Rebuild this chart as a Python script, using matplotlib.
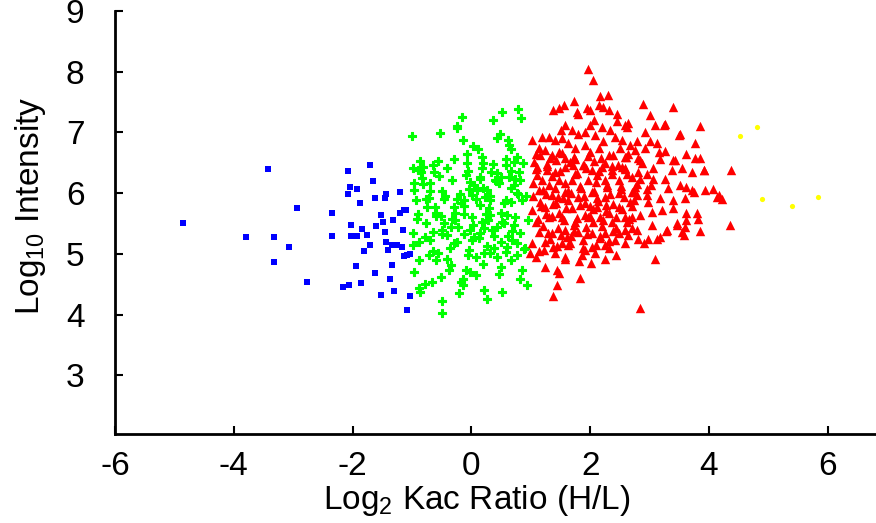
import matplotlib.pyplot as plt

plt.rcParams['font.family'] = ['Liberation Sans', 'DejaVu Sans']
plt.rcParams['axes.unicode_minus'] = False

# values (Log2 ratio, Log10 intensity)
blue_x = [-4.85, -3.79, -3.33, -3.33, -3.42, -3.07, -2.94, -2.76, -2.35, -2.35,
          -2.17, -2.06, -2.07, -2.05, -1.93, -2.08, -1.88, -1.70, -1.66, -1.63,
          -1.45, -1.43, -1.20, -2.03, -2.02, -1.93, -1.84, -1.76, -1.81, -1.71,
          -1.94, -1.86, -1.62, -1.53, -1.49, -1.60, -1.45, -1.43, -1.41, -1.34,
          -1.25, -1.32, -1.16, -1.21, -1.11, -1.17, -1.13, -1.04, -1.33, -1.37,
          -1.52, -1.30, -1.03, -1.09, -1.14, -1.08]
blue_y = [5.50, 5.28, 5.28, 4.86, 6.39, 5.12, 5.75, 4.54, 5.67, 5.30,
          4.45, 4.49, 6.37, 6.10, 6.07, 5.98, 5.83, 6.46, 6.20, 5.92,
          5.92, 5.98, 6.02, 5.47, 5.30, 5.29, 5.41, 5.31, 5.04, 5.15,
          4.80, 4.52, 4.68, 5.64, 5.53, 5.45, 5.36, 5.20, 5.06, 5.14,
          5.14, 5.56, 5.39, 5.68, 5.72, 5.12, 4.96, 4.99, 4.81, 4.59,
          4.32, 4.38, 4.30, 4.08, 5.72, 4.98]

green_x = [-1.00, -0.53, -0.16, -0.24, -0.24, -0.15, 0.37, 0.51, 0.78, 0.84,
           0.48, 0.43, 0.61, 0.64, 0.66, 0.03, 0.11, -0.07, -0.29, -0.57,
           -0.87, 0.18, 0.19, -0.07, 0.58, 0.59, 0.76, 0.72, 0.87, -0.99,
           -0.90, -0.81, -0.85, -0.65, -0.63, -0.41, -0.05, 0.36, 0.33, 0.43,
           0.49, 0.40, 0.46, 0.18, 0.15, 0.66, 0.80, 0.82, 0.74, -0.96,
           -0.97, -0.94, -0.81, -0.69, -0.70, -0.77, -0.49, -0.46, -0.20, -0.24,
           -0.13, -0.02, 0.05, -0.04, 0.10, 0.01, 0.19, 0.27, 0.23, 0.32,
           0.66, 0.71, 0.77, 0.59, 0.67, 0.85, -0.61, -0.75, -0.30, -0.13,
           0.15, 0.29, -0.90, -0.59, -0.27, -0.13, 0.01, 0.32, 0.49, 0.60,
           -0.77, -0.46, -0.49, -0.35, -0.41, 0.18, 0.21, 0.15, 0.35, 0.43,
           -0.02, 0.01, -0.04, 0.71, 0.82, 0.68, 0.77, -0.98, -0.64, -0.24,
           -0.30, 0.49, 0.60, -0.69, -0.88, -0.99, -0.72, -0.88, -0.57, -0.59,
           -0.41, -0.35, -0.38, 0.07, 0.21, 0.32, 0.43, 0.66, 0.77, -0.10,
           -0.02, 0.07, 0.49, 0.85, 0.82, 0.94, -0.97, -0.66, -0.79, -0.88,
           -0.86, -0.18, -0.15, -0.21, 0.21, 0.26, 0.51, -0.49, -0.49, 0.92,
           0.95, 0.90, 0.55, -0.33, 0.28, -0.52, 0.05, 0.62, -0.12, 0.38,
           -0.83, -0.55, -0.32, -0.09, 0.14, 0.41, 0.63,
           -0.72, -0.44, -0.18, 0.08, 0.31, 0.55, 0.79,
           -0.91, -0.60, -0.27, 0.02, 0.24, 0.52, 0.73,
           -0.78, -0.50, -0.22, 0.12, 0.38, 0.69,
           -0.65, -0.36, -0.06, 0.27, 0.58, 0.88,
           -0.52, -0.15, 0.19, 0.47]
green_y = [6.94, 6.99, 7.25, 7.10, 7.07, 6.87, 7.21, 7.33, 7.38, 7.23,
           6.98, 6.91, 6.87, 6.79, 6.72, 6.78, 6.73, 6.64, 6.56, 6.53,
           6.53, 6.60, 6.49, 6.49, 6.56, 6.46, 6.60, 6.52, 6.50, 6.41,
           6.38, 6.43, 6.35, 6.46, 6.35, 6.41, 6.36, 6.48, 6.35, 6.33,
           6.27, 6.21, 6.17, 6.41, 6.27, 6.36, 6.35, 6.21, 6.24, 6.17,
           6.05, 5.88, 6.15, 6.17, 6.04, 5.91, 6.04, 5.90, 5.99, 5.91,
           5.88, 6.19, 6.13, 6.06, 6.05, 5.97, 6.09, 6.05, 5.94, 5.88,
           6.08, 6.13, 6.00, 5.88, 5.86, 5.88, 5.77, 5.77, 5.77, 5.79,
           5.80, 5.76, 5.65, 5.67, 5.68, 5.65, 5.61, 5.64, 5.67, 5.64,
           5.50, 5.50, 5.39, 5.44, 5.31, 5.53, 5.42, 5.34, 5.39, 5.44,
           5.39, 5.23, 5.06, 5.47, 5.34, 5.23, 5.17, 5.34, 5.36, 5.20,
           5.17, 5.20, 5.12, 5.23, 5.20, 5.14, 4.98, 4.90, 5.01, 4.90,
           4.92, 4.81, 4.73, 4.95, 5.01, 5.01, 4.95, 4.90, 4.98, 4.73,
           4.70, 4.65, 4.79, 4.73, 4.59, 4.48, 4.70, 4.54, 4.51, 4.43,
           4.37, 4.54, 4.48, 4.35, 4.40, 4.26, 4.37, 4.22, 4.02, 5.95,
           5.55, 5.10, 5.50, 5.58, 5.56, 5.62, 5.28, 5.30, 5.33, 5.10,
           6.25, 6.28, 6.22, 6.30, 6.24, 6.20, 6.27,
           5.92, 5.96, 5.84, 5.90, 5.95, 5.83, 5.99,
           5.58, 5.62, 5.55, 5.48, 5.66, 5.52, 5.60,
           5.28, 5.33, 5.44, 5.26, 5.30, 5.38,
           5.05, 5.10, 4.98, 5.13, 5.03, 5.08,
           4.62, 4.58, 4.84, 4.66]

red_x = [1.97, 2.04, 1.72, 2.17, 2.30, 1.38, 1.47, 1.55, 1.78, 1.80,
         1.94, 2.00, 2.14, 2.22, 2.31, 2.45, 2.06, 2.00, 2.20, 2.34,
         2.45, 2.59, 1.57, 1.50, 1.69, 1.80, 1.92, 2.08, 2.22, 2.42,
         2.53, 1.19, 1.30, 1.02, 1.41, 1.52, 1.63, 1.75, 1.92, 2.00,
         2.14, 2.31, 2.50, 2.59, 1.13, 1.08, 1.24, 1.36, 1.47, 1.58,
         1.72, 1.10, 1.27, 1.41, 1.58, 1.75, 1.89, 2.03, 2.20, 2.36,
         2.53, 2.62, 1.19, 1.47, 1.69, 1.97, 2.25, 2.48, 2.88, 3.40,
         3.01, 2.64, 2.62, 3.09, 3.26, 3.85, 2.92, 3.51, 2.78, 2.67,
         3.01, 3.12, 3.76, 2.92, 2.76, 2.64, 2.81, 2.87, 3.15, 3.25,
         3.18, 3.62, 3.42, 3.76, 3.85, 3.54, 3.37, 3.71, 3.92, 4.37,
         2.95, 2.70, 2.84, 3.06, 3.26, 2.59, 1.57, 1.24, 1.44, 1.47,
         1.82, 1.44, 1.37, 2.43, 1.13, 1.22, 0.99, 1.08, 1.41, 1.38,
         1.86, 1.92, 2.08, 2.25, 2.31, 2.03, 1.63, 1.52, 1.24, 1.02,
         2.48, 2.59, 2.25, 2.03, 1.80, 1.58, 1.36, 1.13, 2.59, 2.36,
         2.17, 1.97, 1.75, 1.52, 1.30, 1.08, 2.53, 2.31, 2.11, 1.92,
         1.69, 1.47, 1.24, 1.02, 2.48, 2.25, 2.03, 1.80, 1.58, 1.36,
         1.13, 2.84, 3.09, 4.35, 3.85, 3.54, 3.57, 3.46, 3.59, 3.27,
         3.04, 2.90, 2.98, 3.12, 3.18, 2.64, 2.81, 2.78, 2.70, 3.62,
         3.79, 3.82, 3.62, 3.40, 3.20, 3.04, 2.84, 2.70, 2.62, 3.93,
         4.06, 4.13, 4.21, 3.74, 3.59, 3.40, 3.18, 2.95, 2.76, 2.98,
         2.73, 4.17, 3.71, 3.62, 3.51, 3.40, 3.91, 3.49, 3.24, 3.29,
         3.46, 1.06, 1.28, 1.43, 1.66, 1.87, 2.07, 2.24, 2.47, 1.04,
         1.31, 1.57, 1.83, 2.09, 2.28, 2.52, 2.79, 3.03, 3.31, 1.16,
         1.42, 1.63, 1.91, 2.13, 2.38, 2.67, 1.21, 1.46, 1.72, 1.93,
         2.19, 2.44, 1.32, 1.61, 1.88, 2.16, 2.41, 1.11, 1.35, 1.78,
         2.12, 2.36, 2.70, 1.54, 1.99, 2.27, 1.68, 2.05, 2.58, 1.25,
         1.15, 1.33, 1.52, 1.74, 1.96, 2.18, 2.39, 2.61, 2.83,
         1.09, 1.27, 1.49, 1.71, 1.93, 2.15, 2.37, 2.59, 2.81, 3.05,
         1.21, 1.40, 1.62, 1.85, 2.07, 2.29, 2.51, 2.73, 2.95,
         1.03, 1.25, 1.46, 1.68, 1.90, 2.12, 2.34, 2.56, 2.78,
         1.17, 1.38, 1.60, 1.82, 2.04, 2.26, 2.48, 2.70,
         1.12, 1.35, 1.56, 1.77, 1.99, 2.21, 2.43, 2.65,
         1.29, 1.51, 1.73, 1.95, 2.16, 2.38,
         1.44, 1.66, 1.88, 2.10, 2.32,
         1.58, 1.81, 2.02, 2.24]
red_y = [8.04, 7.86, 7.52, 7.60, 7.62, 7.37, 7.41, 7.45, 7.34, 7.30,
         7.40, 7.37, 7.45, 7.42, 7.37, 7.30, 7.20, 7.12, 7.09, 7.04,
         7.18, 7.12, 7.12, 7.04, 7.04, 6.98, 7.01, 6.96, 6.85, 6.93,
         6.87, 6.93, 6.93, 6.87, 6.87, 6.90, 6.82, 6.74, 6.79, 6.68,
         6.74, 6.63, 6.74, 6.60, 6.74, 6.65, 6.71, 6.63, 6.68, 6.57,
         6.60, 6.43, 6.38, 6.34, 6.43, 6.32, 6.47, 6.38, 6.43, 6.38,
         6.43, 6.32, 6.22, 6.22, 6.22, 6.22, 6.22, 6.22, 7.46, 7.42,
         7.29, 7.15, 7.09, 7.12, 7.14, 7.10, 7.01, 6.97, 6.85, 6.79,
         6.85, 6.82, 6.82, 6.74, 6.71, 6.65, 6.57, 6.49, 6.68, 6.70,
         6.56, 6.64, 6.54, 6.57, 6.57, 6.41, 6.38, 6.35, 6.38, 6.38,
         6.32, 6.27, 6.24, 6.24, 6.24, 6.41, 4.91, 4.79, 4.73, 4.68,
         4.60, 4.48, 4.30, 4.98, 5.04, 5.06, 5.01, 4.95, 5.01, 5.12,
         4.98, 5.06, 5.01, 5.14, 5.09, 5.12, 5.14, 5.17, 5.20, 5.17,
         5.34, 5.39, 5.34, 5.34, 5.36, 5.39, 5.34, 5.36, 5.60, 5.53,
         5.60, 5.61, 5.53, 5.60, 5.60, 5.53, 5.74, 5.67, 5.77, 5.64,
         5.75, 5.67, 5.77, 5.72, 6.00, 5.94, 6.02, 5.94, 6.02, 5.97,
         6.05, 4.11, 4.91, 5.47, 5.37, 5.36, 5.31, 5.48, 5.44, 5.37,
         5.48, 5.17, 5.25, 5.25, 5.28, 5.31, 5.25, 5.39, 5.42, 5.67,
         5.67, 5.58, 5.56, 5.75, 5.72, 5.69, 5.64, 5.61, 5.53, 6.05,
         6.07, 5.94, 5.91, 6.02, 5.92, 5.88, 5.92, 5.97, 6.10, 5.86,
         5.88, 5.97, 6.05, 6.10, 6.13, 6.54, 6.38, 6.96, 7.12, 5.39,
         5.50, 6.52, 6.48, 6.55, 6.51, 6.46, 6.53, 6.49, 6.47, 6.17,
         6.13, 6.16, 6.12, 6.18, 6.14, 6.11, 6.15, 6.13, 6.09, 5.86,
         5.83, 5.88, 5.84, 5.87, 5.82, 5.85, 5.45, 5.42, 5.47, 5.44,
         5.46, 5.43, 5.24, 5.27, 5.22, 5.26, 5.23, 6.30, 6.28, 6.33,
         6.29, 6.31, 6.02, 5.92, 5.79, 5.71, 5.30, 5.52, 5.18, 5.65,
         6.62, 6.58, 6.66, 6.56, 6.61, 6.57, 6.63, 6.59, 6.55,
         6.40, 6.44, 6.36, 6.46, 6.41, 6.37, 6.45, 6.39, 6.35, 6.42,
         6.05, 6.09, 6.03, 6.08, 6.04, 6.10, 6.06, 6.02, 6.07,
         5.95, 5.99, 5.93, 6.00, 5.96, 5.92, 5.98, 5.94, 5.97,
         5.78, 5.82, 5.76, 5.80, 5.74, 5.81, 5.77, 5.79,
         5.57, 5.62, 5.55, 5.59, 5.63, 5.56, 5.61, 5.58,
         5.35, 5.31, 5.38, 5.33, 5.29, 5.37,
         5.13, 5.18, 5.10, 5.15, 5.21,
         4.95, 4.88, 4.85, 4.92]

yellow_x = [4.52, 4.81, 4.89, 5.39, 5.83]
yellow_y = [6.94, 7.09, 5.91, 5.79, 5.93]

fig = plt.figure(figsize=(8.76, 5.23), dpi=100)
ax = fig.add_axes([0.1313, 0.170, 0.868, 0.809])

ax.scatter(blue_x, blue_y, marker='s', s=24, color='#0000ff', lw=0)
ax.scatter(green_x, green_y, marker='P', s=38, color='#00ff00',
           edgecolors='#00ff00', lw=0.8)
ax.scatter(red_x, red_y, marker='^', s=46, color='#ff0000', lw=0)
ax.scatter(yellow_x, yellow_y, marker='o', s=14, color='#ffff00', lw=0)

ax.set_xlim(-6, 6.8)
ax.set_ylim(2.03, 9)
ax.set_xticks([-6, -4, -2, 0, 2, 4, 6])
ax.set_yticks([3, 4, 5, 6, 7, 8, 9])

for side in ['top', 'right']:
    ax.spines[side].set_visible(False)
for side in ['left', 'bottom']:
    ax.spines[side].set_linewidth(2)

ax.tick_params(axis='both', direction='in', length=6, width=1.5, labelsize=24)
ax.tick_params(axis='y', pad=22)
ax.tick_params(axis='x', pad=12)

ax.set_xlabel(r'$\mathregular{Log_2}$ Kac Ratio (H/L)', fontsize=24)
ax.set_ylabel(r'$\mathregular{Log_{10}}$ Intensity', fontsize=24)
ax.xaxis.set_label_coords(0.476, -0.115)
ax.yaxis.set_label_coords(-0.088, 0.54)

fig.savefig('out.png', dpi=100)
